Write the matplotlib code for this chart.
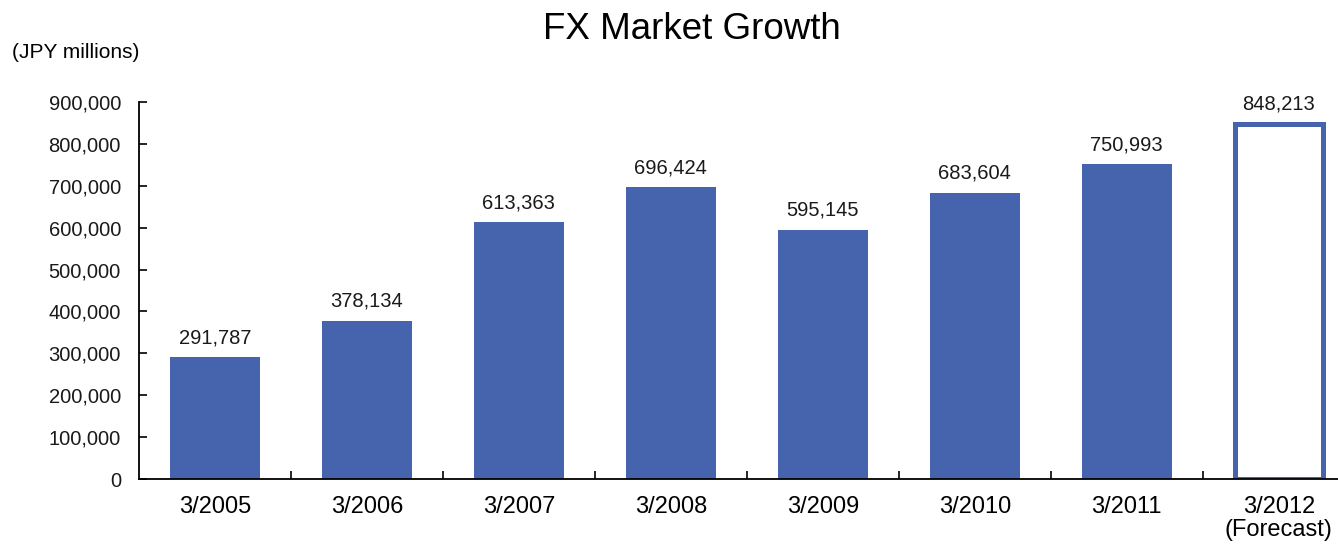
import matplotlib.pyplot as plt
from matplotlib.ticker import FuncFormatter, FixedLocator

plt.rcParams['font.family'] = ['Liberation Sans', 'DejaVu Sans']

periods = ["3/2005", "3/2006", "3/2007", "3/2008", "3/2009", "3/2010", "3/2011", "3/2012\n(Forecast)"]
values = [291787, 378134, 613363, 696424, 595145, 683604, 750993, 848213]
forecast = [False, False, False, False, False, False, False, True]

blue = "#4664AE"

fig = plt.figure(figsize=(13.38, 5.48), dpi=100)
ax = fig.add_axes([0.1039, 0.1259, 0.8961, 0.688])

xs = list(range(len(periods)))
for x, v, fc in zip(xs, values, forecast):
    if fc:
        ax.bar(x, v, width=0.58, facecolor="white", edgecolor=blue, linewidth=3.6)
    else:
        ax.bar(x, v, width=0.59, color=blue)
    ax.annotate(f"{v:,}", (x, v), xytext=(0, 7), textcoords="offset points",
                ha="center", va="bottom", fontsize=14.5, color="#1a1a1a", annotation_clip=False)

ax.set_xlim(-0.5, 7.39)
ax.set_ylim(0, 900000)
ax.set_xticks(xs)
ax.set_xticklabels(periods, fontsize=17, linespacing=1.05)
ax.tick_params(axis="x", length=0, pad=12)
ax.xaxis.set_minor_locator(FixedLocator([i + 0.5 for i in range(7)]))
ax.tick_params(axis="x", which="minor", direction="in", length=6, width=1.2)

ax.set_yticks(range(0, 900001, 100000))
ax.yaxis.set_major_formatter(FuncFormatter(lambda v, p: f"{int(v):,}"))
ax.tick_params(axis="y", direction="in", length=6, width=1.2, labelsize=14.5, pad=13, labelcolor="#1a1a1a")

for s in ["top", "right"]:
    ax.spines[s].set_visible(False)
ax.spines["left"].set_linewidth(1.3)
ax.spines["bottom"].set_linewidth(1.3)

fig.text(0.517, 0.947, "FX Market Growth", ha="center", va="center", fontsize=26.5)
fig.text(0.009, 0.905, "(JPY millions)", ha="left", va="center", fontsize=15)

fig.savefig("out.png", dpi=100)
